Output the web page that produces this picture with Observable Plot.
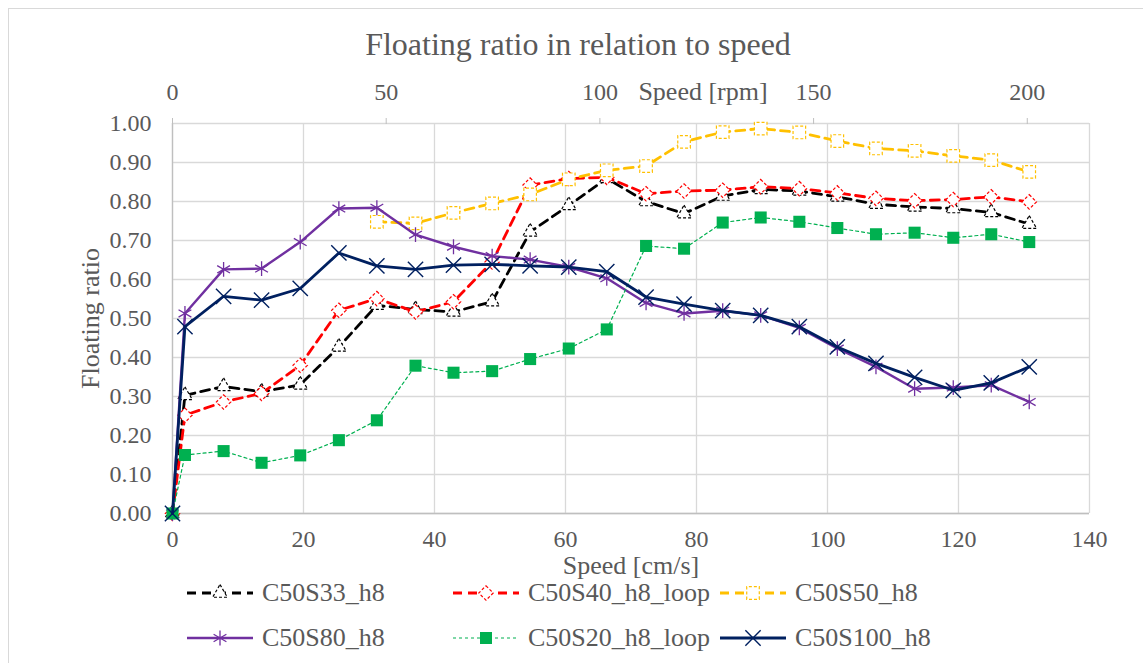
<!DOCTYPE html>
<html><head><meta charset="utf-8">
<script src="https://cdn.jsdelivr.net/npm/d3@7"></script>
<script src="https://cdn.jsdelivr.net/npm/@observablehq/plot@0.6"></script>
<style>
 body{margin:0;background:#fff;}
 #wrap{position:relative;width:1143px;height:663px;overflow:hidden;font-family:"Liberation Serif","Times New Roman",serif;color:#595959;background:#fff;}
 #frame{position:absolute;left:8px;top:8px;width:1200px;height:700px;border:1px solid #d9d9d9;box-sizing:border-box;pointer-events:none;z-index:10;}
 #title{position:relative;height:80px;box-sizing:border-box;padding-top:26px;padding-left:13px;text-align:center;font-size:32px;line-height:36px;white-space:nowrap;}
 #chart{position:relative;height:495px;}
 #legend{position:relative;height:88px;font-size:26px;}
 .item{position:absolute;display:flex;align-items:center;height:36px;line-height:36px;white-space:nowrap;}
 .item svg{margin-right:9px;display:block;}
</style></head>
<body><div id="wrap"><div id="frame"></div><div id="title"></div><div id="chart"></div><div id="legend"></div></div>
<script>
// ---- data ----
const titleText = "Floating ratio in relation to speed";
const xLabel = "Speed [cm/s]";
const x2Label = "Speed [rpm]";
const yLabel = "Floating ratio";

const xs = [0, 1.9, 7.8, 13.6, 19.5, 25.4, 31.2, 37.1, 42.9, 48.8, 54.6, 60.5, 66.3, 72.3, 78.1, 84.0, 89.8, 95.7, 101.5, 107.4, 113.3, 119.2, 125.0, 130.8];

const seriesNames = ["C50S33_h8", "C50S40_h8_loop", "C50S50_h8", "C50S80_h8", "C50S20_h8_loop", "C50S100_h8"];
const s33  = [0, 0.303, 0.326, 0.312, 0.330, 0.427, 0.534, 0.523, 0.517, 0.543, 0.722, 0.790, 0.859, 0.800, 0.769, 0.814, 0.831, 0.827, 0.812, 0.793, 0.786, 0.782, 0.772, 0.742];
const s40  = [0, 0.252, 0.286, 0.308, 0.380, 0.521, 0.551, 0.517, 0.543, 0.645, 0.842, 0.859, 0.862, 0.820, 0.827, 0.829, 0.838, 0.833, 0.822, 0.808, 0.802, 0.805, 0.812, 0.799];
const s50  = [null, null, null, null, null, null, 0.748, 0.744, 0.771, 0.795, 0.818, 0.857, 0.880, 0.891, 0.953, 0.978, 0.987, 0.977, 0.955, 0.936, 0.930, 0.917, 0.906, 0.876];
const s80  = [0, 0.513, 0.626, 0.628, 0.696, 0.782, 0.784, 0.715, 0.684, 0.660, 0.651, 0.632, 0.603, 0.540, 0.513, 0.520, 0.508, 0.476, 0.423, 0.376, 0.320, 0.323, 0.329, 0.286];
const s20  = [0, 0.150, 0.160, 0.130, 0.149, 0.188, 0.239, 0.379, 0.361, 0.365, 0.396, 0.423, 0.472, 0.686, 0.679, 0.746, 0.759, 0.748, 0.732, 0.716, 0.720, 0.707, 0.716, 0.696];
const s100 = [0, 0.479, 0.557, 0.547, 0.577, 0.668, 0.635, 0.626, 0.637, 0.639, 0.635, 0.632, 0.620, 0.555, 0.537, 0.520, 0.508, 0.479, 0.427, 0.385, 0.349, 0.316, 0.335, 0.376];

const xTicks = [0, 20, 40, 60, 80, 100, 120, 140];
const yTicks = [0, 0.1, 0.2, 0.3, 0.4, 0.5, 0.6, 0.7, 0.8, 0.9, 1.0];
const rpmTicks = [0, 50, 100, 150, 200];
const cmsPerRpm = 0.6525; // secondary axis: 200 rpm ≈ 130.5 cm/s

// ---- styles ----
const styles = [
  {values: s33,  color: "#000000", width: 2.8, dash: "9,6", symbol: "triangle2", d3sym: d3.symbolTriangle2, r: 7,   fill: "white",   mw: 1.2, mdash: "3,2"},
  {values: s40,  color: "#FF0000", width: 2.8, dash: "9,6", symbol: "diamond2",  d3sym: d3.symbolDiamond2,  r: 6.5, fill: "white",   mw: 1.2, mdash: "3,2"},
  {values: s50,  color: "#FFC000", width: 2.8, dash: "9,6", symbol: "square2",   d3sym: d3.symbolSquare2,   r: 8,   fill: "white",   mw: 1.2, mdash: "3,2"},
  {values: s80,  color: "#7030A0", width: 2.4, dash: null,  symbol: "asterisk",  d3sym: d3.symbolAsterisk,  r: 7,   fill: "none",    mw: 1.3, mdash: null},
  {values: s20,  color: "#00B050", width: 1.2, dash: "3,3", symbol: "square",    d3sym: d3.symbolSquare,    r: 6.8, fill: "#00B050", mw: 0,   mdash: null},
  {values: s100, color: "#002060", width: 2.8, dash: null,  symbol: "times",     d3sym: d3.symbolTimes,     r: 7,   fill: "none",    mw: 1.4, mdash: null}
];

const rowsFor = vals => xs.map((x, i) => ({x, y: vals[i]})).filter(d => d.y != null);

document.getElementById("title").textContent = titleText;

const seriesMarks = [];
styles.forEach(st => {
  const rows = rowsFor(st.values);
  seriesMarks.push(Plot.line(rows, {x: "x", y: "y", stroke: st.color, strokeWidth: st.width, strokeDasharray: st.dash || undefined}));
  seriesMarks.push(Plot.dot(rows, {x: "x", y: "y", symbol: st.symbol, r: st.r, fill: st.fill, stroke: st.mw ? st.color : "none", strokeWidth: st.mw || undefined, strokeDasharray: st.mdash || undefined}));
});

const chart = Plot.plot({
  width: 1143,
  height: 495,
  marginTop: 43,
  marginBottom: 62,
  marginLeft: 172,
  marginRight: 54,
  x: {domain: [0, 140]},
  y: {domain: [0, 1]},
  style: {fontFamily: "'Liberation Serif','Times New Roman',serif", fontSize: "24px", color: "#595959", background: "white", overflow: "visible"},
  marks: [
    Plot.gridX({ticks: xTicks, stroke: "#d9d9d9", strokeOpacity: 1, strokeWidth: 1.3}),
    Plot.gridY({ticks: yTicks, stroke: "#d9d9d9", strokeOpacity: 1, strokeWidth: 1.3}),
    Plot.ruleX([0], {stroke: "#bfbfbf", strokeWidth: 1.3}),
    Plot.ruleY([0], {stroke: "#bfbfbf", strokeWidth: 1.3}),
    Plot.axisY({ticks: yTicks, tickSize: 0, tickPadding: 21, tickFormat: d => d.toFixed(2), label: null}),
    Plot.axisX({ticks: xTicks, tickSize: 0, tickPadding: 16, label: null}),
    Plot.axisX({anchor: "top", ticks: rpmTicks.map(r => r * cmsPerRpm), tickFormat: d => String(Math.round(d / cmsPerRpm)), tickSize: 6, tickPadding: 18, stroke: "#bfbfbf", label: null}),
    Plot.text([yLabel], {frameAnchor: "left", textAnchor: "middle", lineAnchor: "middle", rotate: -90, dx: -82, fontSize: 26, fill: "#595959"}),
    Plot.text([xLabel], {frameAnchor: "bottom", textAnchor: "middle", lineAnchor: "middle", dy: 52, fontSize: 26, fill: "#595959"}),
    Plot.text([x2Label], {frameAnchor: "top", textAnchor: "middle", lineAnchor: "middle", dx: 72, dy: -32, fontSize: 26, fill: "#595959"}),
    ...seriesMarks
  ]
});
document.getElementById("chart").appendChild(chart);

// ---- legend ----
const legendPos = [[187, 0], [453, 0], [720, 0], [187, 45], [453, 45], [720, 45]];
const legend = document.getElementById("legend");
styles.forEach((st, i) => {
  const item = document.createElement("div");
  item.className = "item";
  item.style.left = legendPos[i][0] + "px";
  item.style.top = legendPos[i][1] + "px";
  const svg = d3.create("svg").attr("width", 66).attr("height", 24);
  svg.append("line").attr("x1", 0).attr("x2", 66).attr("y1", 12).attr("y2", 12)
    .attr("stroke", st.color).attr("stroke-width", st.width).attr("stroke-dasharray", st.dash);
  svg.append("path").attr("d", d3.symbol(st.d3sym, Math.PI * st.r * st.r)())
    .attr("transform", "translate(33,12)")
    .attr("fill", st.fill).attr("stroke", st.mw ? st.color : "none").attr("stroke-width", st.mw)
    .attr("stroke-dasharray", st.mdash);
  item.appendChild(svg.node());
  const label = document.createElement("span");
  label.textContent = seriesNames[i];
  item.appendChild(label);
  legend.appendChild(item);
});
</script></body></html>
